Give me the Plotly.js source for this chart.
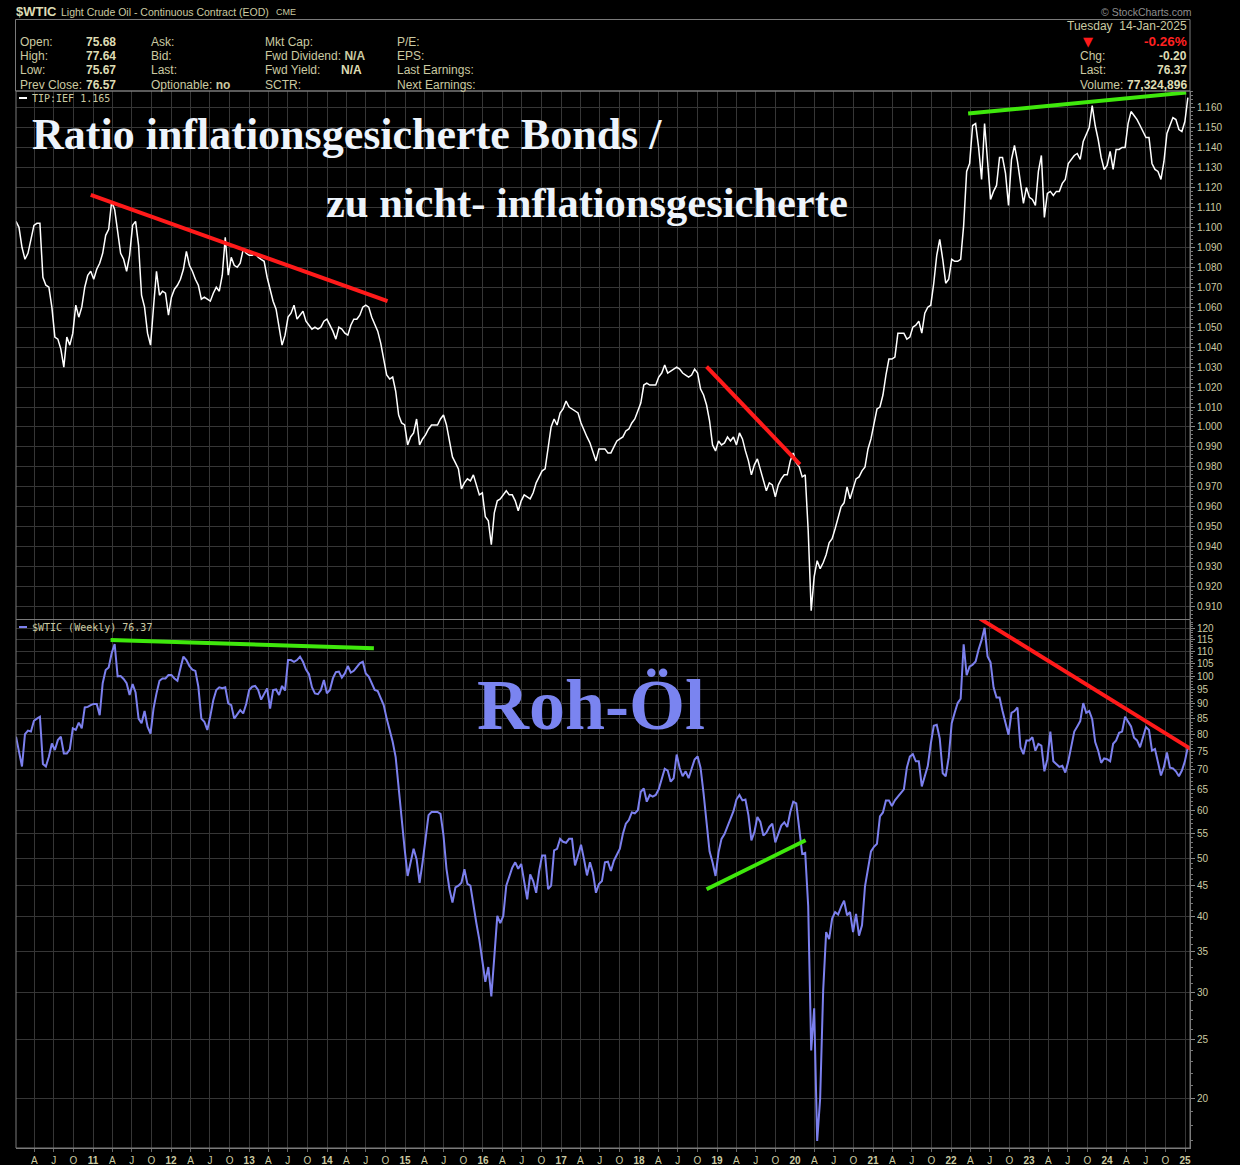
<!DOCTYPE html>
<html>
<head>
<meta charset="utf-8">
<script src="https://cdn.plot.ly/plotly-3.0.1.min.js"></script>
<style>
  html, body { margin: 0; padding: 0; background: #000; }
  #chart { width: 1240px; height: 1165px; }
</style>
</head>
<body>
<div id="chart"></div>
<script>
// ---- TIP:IEF ratio, sampled every two weeks, last sample 14-Jan-2025 ----
const ratioValues = [
  1.103, 1.100, 1.090, 1.084, 1.087, 1.095, 1.101, 1.102, 1.102, 1.075, 1.071, 1.070, 1.060, 1.045, 1.044, 1.039, 1.030, 1.045, 1.041, 1.047, 1.061, 1.055, 1.060, 1.070, 1.076, 1.078,
  1.074, 1.079, 1.082, 1.087, 1.096, 1.099, 1.113, 1.109, 1.099, 1.087, 1.084, 1.078, 1.086, 1.101, 1.103, 1.091, 1.066, 1.060, 1.047, 1.041, 1.060, 1.078, 1.066, 1.068, 1.067, 1.056,
  1.065, 1.069, 1.071, 1.074, 1.079, 1.088, 1.081, 1.078, 1.074, 1.071, 1.064, 1.065, 1.064, 1.063, 1.067, 1.070, 1.068, 1.076, 1.095, 1.076, 1.085, 1.081, 1.080, 1.082, 1.089, 1.087,
  1.086, 1.086, 1.087, 1.085, 1.084, 1.083, 1.075, 1.069, 1.063, 1.059, 1.051, 1.041, 1.046, 1.055, 1.057, 1.061, 1.054, 1.056, 1.058, 1.053, 1.051, 1.049, 1.050, 1.049, 1.050, 1.053,
  1.054, 1.051, 1.048, 1.044, 1.050, 1.049, 1.047, 1.046, 1.051, 1.054, 1.054, 1.056, 1.060, 1.061, 1.060, 1.055, 1.051, 1.048, 1.042, 1.033, 1.026, 1.024, 1.025, 1.018, 1.006, 1.002,
  1.001, 0.991, 0.995, 0.997, 1.004, 0.991, 0.994, 0.996, 0.999, 1.001, 1.001, 1.001, 1.004, 1.006, 1.001, 0.993, 0.985, 0.982, 0.979, 0.969, 0.972, 0.974, 0.973, 0.976, 0.971, 0.966,
  0.967, 0.955, 0.953, 0.941, 0.957, 0.963, 0.964, 0.966, 0.968, 0.966, 0.966, 0.963, 0.958, 0.963, 0.966, 0.965, 0.964, 0.967, 0.972, 0.975, 0.978, 0.979, 0.990, 1.000, 1.004, 1.001,
  1.007, 1.009, 1.013, 1.010, 1.009, 1.008, 1.007, 1.002, 0.998, 0.995, 0.992, 0.988, 0.983, 0.989, 0.989, 0.989, 0.987, 0.987, 0.990, 0.993, 0.994, 0.995, 0.998, 0.999, 1.002, 1.004,
  1.008, 1.012, 1.021, 1.022, 1.021, 1.021, 1.021, 1.025, 1.027, 1.031, 1.027, 1.028, 1.029, 1.030, 1.029, 1.027, 1.026, 1.025, 1.026, 1.029, 1.027, 1.019, 1.016, 1.011, 1.003, 0.991,
  0.988, 0.993, 0.991, 0.992, 0.995, 0.993, 0.995, 0.991, 0.997, 0.994, 0.988, 0.983, 0.976, 0.981, 0.984, 0.979, 0.974, 0.968, 0.972, 0.971, 0.965, 0.971, 0.974, 0.976, 0.976, 0.983,
  0.987, 0.982, 0.980, 0.975, 0.976, 0.948, 0.908, 0.925, 0.933, 0.929, 0.932, 0.936, 0.942, 0.944, 0.949, 0.955, 0.960, 0.962, 0.970, 0.964, 0.969, 0.974, 0.975, 0.978, 0.980, 0.989,
  0.994, 1.002, 1.009, 1.010, 1.016, 1.026, 1.034, 1.034, 1.035, 1.047, 1.047, 1.047, 1.044, 1.045, 1.050, 1.051, 1.053, 1.047, 1.057, 1.060, 1.061, 1.072, 1.086, 1.094, 1.084, 1.072,
  1.074, 1.084, 1.083, 1.083, 1.084, 1.101, 1.128, 1.132, 1.151, 1.152, 1.140, 1.124, 1.152, 1.133, 1.114, 1.118, 1.121, 1.135, 1.135, 1.127, 1.111, 1.134, 1.141, 1.133, 1.121, 1.112,
  1.120, 1.115, 1.114, 1.111, 1.128, 1.136, 1.105, 1.117, 1.118, 1.116, 1.118, 1.118, 1.122, 1.124, 1.132, 1.134, 1.136, 1.137, 1.134, 1.143, 1.147, 1.150, 1.161, 1.151, 1.144, 1.135,
  1.129, 1.131, 1.138, 1.129, 1.139, 1.139, 1.140, 1.140, 1.152, 1.158, 1.156, 1.154, 1.151, 1.148, 1.145, 1.145, 1.132, 1.129, 1.128, 1.124, 1.133, 1.147, 1.151, 1.155, 1.154, 1.149,
  1.148, 1.153, 1.165
];

// ---- $WTIC weekly close (USD), same two-week sampling ----
const oilValues = [
  79.4, 74.7, 70.9, 80.2, 81.3, 81.0, 84.4, 85.1, 85.7, 71.6, 70.9, 73.6, 77.4, 75.5, 78.4, 79.4, 74.5, 74.5, 75.7, 82.0, 81.5, 83.8, 82.0, 88.8, 89.0, 89.6,
  90.0, 90.0, 86.2, 97.4, 102.4, 103.4, 109.2, 113.1, 100.0, 100.1, 99.0, 97.4, 93.1, 97.1, 94.0, 85.1, 83.6, 87.6, 82.5, 80.4, 88.4, 93.7, 98.3, 99.2, 99.2, 100.5,
  100.5, 99.2, 98.3, 103.1, 107.8, 106.4, 104.0, 102.6, 102.1, 96.1, 85.1, 84.1, 81.5, 85.9, 91.3, 94.9, 95.9, 95.6, 95.9, 90.2, 89.6, 85.1, 86.4, 87.9, 86.8, 90.0,
  94.9, 96.1, 96.4, 94.9, 91.5, 93.7, 95.5, 88.4, 94.9, 95.1, 93.1, 96.4, 94.7, 106.4, 106.4, 105.7, 106.4, 107.8, 105.7, 102.6, 100.8, 95.9, 93.7, 93.4, 94.9, 98.6,
  93.7, 94.9, 99.2, 101.6, 101.8, 99.5, 101.1, 104.0, 101.4, 102.1, 103.4, 105.1, 105.7, 101.1, 99.9, 97.1, 94.9, 94.5, 92.2, 89.6, 85.1, 81.5, 77.9, 73.5, 65.2, 57.4,
  51.8, 46.7, 49.2, 51.8, 49.8, 45.5, 49.2, 54.5, 58.9, 59.6, 59.6, 59.6, 59.2, 54.5, 48.0, 44.4, 42.2, 44.7, 45.0, 45.5, 47.9, 45.3, 45.0, 41.6, 39.0, 36.6,
  33.9, 31.2, 33.0, 29.5, 34.3, 40.1, 39.0, 40.1, 45.0, 46.4, 48.2, 49.2, 48.0, 48.9, 45.3, 42.7, 47.0, 45.8, 43.8, 47.6, 50.5, 50.5, 44.4, 45.0, 51.5, 51.8,
  53.8, 53.2, 53.0, 53.8, 53.8, 48.6, 50.5, 52.6, 49.8, 46.8, 49.2, 47.3, 43.8, 45.3, 45.8, 49.2, 49.3, 47.6, 49.5, 50.5, 51.8, 54.8, 57.0, 57.8, 59.5, 59.3,
  60.0, 64.4, 65.2, 62.0, 63.6, 63.2, 63.6, 65.0, 67.4, 70.3, 69.8, 66.9, 67.8, 74.2, 70.5, 68.3, 69.6, 67.8, 70.3, 72.8, 73.7, 70.5, 64.0, 57.4, 51.3, 49.2,
  46.7, 51.1, 53.8, 54.8, 56.5, 58.0, 59.8, 62.5, 63.6, 62.3, 62.5, 58.9, 53.5, 55.2, 58.5, 57.4, 54.5, 55.1, 56.3, 57.0, 53.1, 54.8, 56.6, 57.3, 56.3, 59.6,
  62.0, 61.6, 55.2, 50.8, 51.0, 41.6, 24.0, 28.2, 17.0, 20.0, 30.1, 37.7, 36.7, 39.7, 40.7, 40.3, 41.5, 42.5, 40.2, 40.7, 37.7, 40.4, 37.2, 38.7, 44.9, 47.7,
  51.3, 52.2, 52.8, 58.6, 59.5, 62.3, 62.3, 61.0, 62.3, 63.2, 64.2, 65.0, 70.6, 73.6, 74.3, 72.3, 72.3, 65.7, 68.3, 71.0, 77.3, 82.8, 83.1, 78.9, 69.1, 68.3,
  73.4, 83.6, 87.0, 90.3, 91.8, 113.0, 100.4, 103.8, 104.5, 105.8, 110.8, 114.8, 120.3, 107.9, 105.5, 95.9, 92.2, 92.2, 87.6, 83.7, 80.0, 87.0, 87.6, 88.8, 76.3, 74.3,
  78.3, 78.3, 79.3, 75.3, 77.3, 76.8, 69.6, 72.9, 81.0, 72.3, 71.5, 70.8, 71.1, 69.3, 72.3, 76.3, 81.0, 82.6, 84.3, 90.3, 87.0, 87.6, 84.9, 77.8, 75.3, 71.9,
  73.1, 72.9, 72.3, 77.3, 78.3, 80.6, 81.0, 85.7, 84.3, 82.6, 79.1, 78.3, 76.3, 79.5, 82.4, 81.5, 75.3, 75.8, 72.3, 68.5, 70.8, 74.8, 70.6, 70.4, 69.6, 68.3,
  69.8, 72.3, 76.37
];

const lastDate = '2025-01-14';
const sampleStepDays = 14;

// Trend lines drawn on the two panels: [start date, start value, end date, end value, colour]
const ratioTrends = [
  ['2010-12-21', 1.1163, '2014-10-11', 1.0630, '#ff1a1a'],
  ['2018-11-13', 1.0302, '2020-01-24', 0.9813, '#ff1a1a'],
  ['2022-03-22', 1.1570, '2025-01-06', 1.1675, '#3fe80c']
];
const oilTrends = [
  ['2011-03-24', 114.9, '2014-08-08', 111.3, '#3fe80c'],
  ['2018-11-13', 44.4, '2020-02-20', 53.5, '#3fe80c'],
  ['2022-05-16', 124.6, '2025-02-28', 74.6, '#ff1a1a']
];

// Axis ticks
const ratioTicks = [0.91, 0.92, 0.93, 0.94, 0.95, 0.96, 0.97, 0.98, 0.99, 1.00, 1.01, 1.02, 1.03,
  1.04, 1.05, 1.06, 1.07, 1.08, 1.09, 1.10, 1.11, 1.12, 1.13, 1.14, 1.15, 1.16];
const oilTicks = [20, 25, 30, 35, 40, 45, 50, 55, 60, 65, 70, 75, 80, 85, 90, 95, 100, 105, 110, 115, 120];
const tickYears = [2010, 2011, 2012, 2013, 2014, 2015, 2016, 2017, 2018, 2019, 2020, 2021, 2022, 2023, 2024, 2025];
const quarterMonths = ['04', '07', '10'];
const quarterLetters = ['A', 'J', 'O'];

// ---- page geometry ----
const W = 1240, H = 1165;
const M = { l: 16, r: 50, t: 91, b: 17 };
const PW = W - M.l - M.r, PH = H - M.t - M.b;
const px = x => (x - M.l) / PW;
const py = y => (H - M.b - y) / PH;

const KHAKI = '#cbcaa2';
const KHAKI_B = '#dedcb4';
const GRID = '#363636';
const FRAME = '#7a7a7a';
const OIL = '#7c80ee';
const SANS = 'Liberation Sans, Arial, sans-serif';
const MONO = 'DejaVu Sans Mono, monospace';
const SERIF = 'Liberation Serif, Times New Roman, serif';

function sampleDates(n) {
  const end = Date.parse(lastDate + 'T00:00:00Z');
  const out = [];
  for (let i = 0; i < n; i++) {
    out.push(new Date(end - (n - 1 - i) * sampleStepDays * 864e5).toISOString().slice(0, 10));
  }
  return out;
}

const tickVals = [], tickText = [];
tickYears.forEach(y => {
  if (y > 2010) { tickVals.push(y + '-01-01'); tickText.push('<b>' + String(y).slice(2) + '</b>'); }
  if (y < 2025) quarterMonths.forEach((m, k) => { tickVals.push(y + '-' + m + '-01'); tickText.push(quarterLetters[k]); });
});

const xRange = ['2010-01-05', '2025-01-24'];

const traces = [
  { x: sampleDates(ratioValues.length), y: ratioValues, xaxis: 'x', yaxis: 'y',
    type: 'scatter', mode: 'lines', line: { color: '#ffffff', width: 1.5 }, hoverinfo: 'skip' },
  { x: sampleDates(oilValues.length), y: oilValues, xaxis: 'x2', yaxis: 'y2',
    type: 'scatter', mode: 'lines', line: { color: OIL, width: 2 }, hoverinfo: 'skip' }
];

// trend lines as two-point line traces on each panel's own axes
ratioTrends.forEach(t => traces.push({
  x: [t[0], t[2]], y: [t[1], t[3]], xaxis: 'x', yaxis: 'y', type: 'scatter', mode: 'lines',
  line: { color: t[4], width: 4 }, hoverinfo: 'skip'
}));
oilTrends.forEach(t => traces.push({
  x: [t[0], t[2]], y: [t[1], t[3]], xaxis: 'x2', yaxis: 'y2', type: 'scatter', mode: 'lines',
  line: { color: t[4], width: 4 }, hoverinfo: 'skip'
}));

const shapes = [];
// header box and chart frame
shapes.push({ type: 'rect', xref: 'paper', yref: 'paper', x0: px(15.5), x1: px(1190), y0: py(91), y1: py(19.5), line: { color: FRAME, width: 1 } });
shapes.push({ type: 'rect', xref: 'paper', yref: 'paper', x0: 0, x1: 1, y0: 0, y1: 1, line: { color: FRAME, width: 1 } });
shapes.push({ type: 'line', xref: 'paper', yref: 'paper', x0: 0, x1: 1, y0: py(619.5), y1: py(619.5), line: { color: FRAME, width: 1 } });
// legend swatches
shapes.push({ type: 'line', xref: 'paper', yref: 'paper', x0: px(19), x1: px(27), y0: py(98), y1: py(98), line: { color: '#ffffff', width: 2 } });
shapes.push({ type: 'line', xref: 'paper', yref: 'paper', x0: px(19), x1: px(27), y0: py(627), y1: py(627), line: { color: OIL, width: 2 } });

function txt(x, y, text, o) {
  o = o || {};
  return {
    xref: 'paper', yref: 'paper', x: px(x), y: py(y), text: text, showarrow: false,
    xanchor: o.anchor || 'left', yanchor: 'middle', borderpad: 0,
    font: { family: o.family || SANS, size: o.size || 12, color: o.color || KHAKI }
  };
}

const annotations = [
  // title strip
  txt(15, 11.5, '<b>$WTIC</b>', { size: 13, color: KHAKI_B }),
  txt(60, 12, 'Light Crude Oil - Continuous Contract (EOD)', { size: 10.5 }),
  txt(275, 12.5, 'CME', { size: 9 }),
  txt(1193, 12, '© StockCharts.com', { anchor: 'right', size: 10.5, color: '#8e8e8e' }),
  // quote block, left
  txt(19, 41.5, 'Open:'), txt(117, 41.5, '<b>75.68</b>', { anchor: 'right', color: KHAKI_B }),
  txt(19, 55.5, 'High:'), txt(117, 55.5, '<b>77.64</b>', { anchor: 'right', color: KHAKI_B }),
  txt(19, 70, 'Low:'), txt(117, 70, '<b>75.67</b>', { anchor: 'right', color: KHAKI_B }),
  txt(19, 85, 'Prev Close:'), txt(117, 85, '<b>76.57</b>', { anchor: 'right', color: KHAKI_B }),
  txt(150, 41.5, 'Ask:'), txt(150, 55.5, 'Bid:'), txt(150, 70, 'Last:'),
  txt(150, 85, 'Optionable: <b>no</b>'),
  txt(264, 41.5, 'Mkt Cap:'),
  txt(264, 55.5, 'Fwd Dividend: <b>N/A</b>'),
  txt(264, 70, 'Fwd Yield:'), txt(362.5, 70, '<b>N/A</b>', { anchor: 'right', color: KHAKI_B }),
  txt(264, 85, 'SCTR:'),
  txt(396, 41.5, 'P/E:'), txt(396, 55.5, 'EPS:'), txt(396, 70, 'Last Earnings:'), txt(396, 85, 'Next Earnings:'),
  // quote block, right
  txt(1188, 26, 'Tuesday  14-Jan-2025', { anchor: 'right' }),
  txt(1088, 41, '▼', { anchor: 'center', size: 13, color: '#ff1a1a', family: 'DejaVu Sans, sans-serif' }),
  txt(1188, 41, '<b>-0.26%</b>', { anchor: 'right', size: 13.5, color: '#ff2020' }),
  txt(1079, 56, 'Chg:'), txt(1188, 56, '<b>-0.20</b>', { anchor: 'right', color: KHAKI_B }),
  txt(1079, 70, 'Last:'), txt(1188, 70, '<b>76.37</b>', { anchor: 'right', color: KHAKI_B }),
  txt(1079, 85, 'Volume:'), txt(1188, 85, '<b>77,324,896</b>', { anchor: 'right', color: KHAKI_B }),
  // panel legends
  txt(31, 98.5, 'TIP:IEF 1.165', { family: MONO, size: 10 }),
  txt(31, 627.5, '$WTIC (Weekly) 76.37', { family: MONO, size: 10 }),
  // headline text
  txt(31, 134.5, '<b>Ratio inflationsgesicherte Bonds /</b>', { family: SERIF, size: 44, color: '#eef4fb' }),
  txt(325, 202.5, '<b>zu nicht- inflationsgesicherte</b>', { family: SERIF, size: 42.5, color: '#eef4fb' }),
  txt(476, 705, '<b>Roh-Öl</b>', { family: SERIF, size: 72, color: '#7a84f0' })
];

const layout = {
  width: W, height: H,
  margin: M,
  paper_bgcolor: '#000', plot_bgcolor: '#000',
  showlegend: false,
  font: { family: SANS, size: 10, color: KHAKI },
  xaxis: {
    type: 'date', range: xRange, anchor: 'y', tickmode: 'array', tickvals: tickVals, ticktext: tickText,
    showticklabels: false, ticks: '', showgrid: true, gridcolor: GRID, gridwidth: 1, zeroline: false, showline: false
  },
  xaxis2: {
    type: 'date', range: xRange, anchor: 'y2', matches: 'x', tickmode: 'array', tickvals: tickVals, ticktext: tickText,
    ticks: 'outside', ticklen: 3, tickcolor: '#666', tickangle: 0, tickfont: { family: SANS, size: 10, color: KHAKI },
    showgrid: true, gridcolor: GRID, gridwidth: 1, zeroline: false, showline: true, linecolor: FRAME
  },
  yaxis: {
    domain: [(1148 - 619) / PH, 1], range: [0.9038, 1.1683], side: 'right', anchor: 'x',
    tickmode: 'array', tickvals: ratioTicks, ticktext: ratioTicks.map(v => v.toFixed(3)),
    ticks: 'outside', ticklen: 4, tickcolor: '#888', tickfont: { family: SANS, size: 10, color: KHAKI },
    showgrid: true, gridcolor: GRID, gridwidth: 1, zeroline: false, showline: true, linecolor: FRAME,
    minor: { tickmode: 'linear', tick0: 0.9, dtick: 0.002, ticks: 'outside', ticklen: 2, tickcolor: '#777', showgrid: false }
  },
  yaxis2: {
    domain: [0, (1148 - 620) / PH], type: 'log', range: [Math.log10(16.55), Math.log10(123.95)], side: 'right', anchor: 'x2',
    tickmode: 'array', tickvals: oilTicks, ticktext: oilTicks.map(String),
    ticks: 'outside', ticklen: 4, tickcolor: '#888', tickfont: { family: SANS, size: 10, color: KHAKI },
    showgrid: true, gridcolor: GRID, gridwidth: 1, zeroline: false, showline: true, linecolor: FRAME,
    minor: { tickmode: 'array', tickvals: Array.from({ length: 107 }, (_, k) => 17 + k), ticks: 'outside', ticklen: 2, tickcolor: '#777', showgrid: false }
  },
  shapes: shapes,
  annotations: annotations
};

Plotly.newPlot('chart', traces, layout, { staticPlot: true, displayModeBar: false });
</script>
</body>
</html>
